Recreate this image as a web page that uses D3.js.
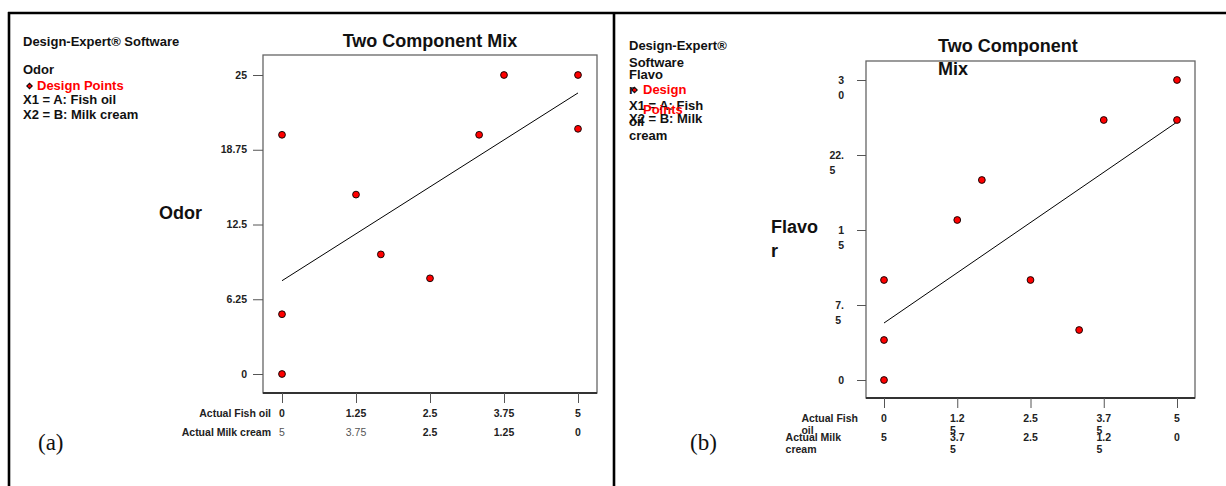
<!DOCTYPE html>
<html>
<head>
<meta charset="utf-8">
<script src="https://cdn.jsdelivr.net/npm/d3@7"></script>
<style>
body { margin: 0; background: #fff; }
svg { font-family: "Liberation Sans", Arial, sans-serif; }
.tick line { stroke: #555; }
.lbl { font-size: 10.5px; font-weight: bold; fill: #222; }
.hdr { font-size: 13px; font-weight: bold; fill: #111; }
.ttl { font-size: 18px; font-weight: bold; fill: #111; }
.cap { font-family: "Liberation Serif", "Times New Roman", serif; font-size: 23px; fill: #111; }
</style>
</head>
<body>
<svg id="fig" width="1226" height="486"></svg>
<script>
// design points (same blends, two responses)
const fishOilA = [0, 1.25, 3.33, 3.75, 5, 5, 1.67, 2.5, 0, 0];
const odor     = [20, 15, 20, 25, 25, 20.5, 10, 8, 5, 0];
const fishOilB = [5, 3.75, 5, 1.67, 1.25, 0, 2.5, 3.33, 0, 0];
const flavor   = [30, 26, 26, 20, 16, 10, 10, 5, 4, 0];

// fitted line, value at fish oil = 0 and 5
const fitEnds  = [0, 5];
const odorFit  = [7.8, 23.5];
const flavorFit = [5.7, 25.8];

const fishTicks   = [0, 1.25, 2.5, 3.75, 5];
const fishLabelsA = ["0", "1.25", "2.5", "3.75", "5"];
const milkLabelsA = ["5", "3.75", "2.5", "1.25", "0"];
const odorTicks   = [0, 6.25, 12.5, 18.75, 25];
const odorLabels  = ["0", "6.25", "12.5", "18.75", "25"];

const fishLabelsB   = ["0", "1.2|5", "2.5", "3.7|5", "5"];
const milkLabelsB   = ["5", "3.7|5", "2.5", "1.2|5", "0"];
const flavorTicks   = [0, 7.5, 15, 22.5, 30];
const flavorLabels  = ["0", "7.|5", "1|5", "22.|5", "3|0"];

const svg = d3.select("#fig");
svg.append("rect").attr("width", 1226).attr("height", 486).attr("fill", "#fff");

// outer frame
const frame = svg.append("g").attr("stroke", "#000").attr("stroke-width", 2.6);
frame.append("line").attr("x1", 8).attr("x2", 1226).attr("y1", 13).attr("y2", 13);
frame.append("line").attr("x1", 9).attr("x2", 9).attr("y1", 12).attr("y2", 486);
frame.append("line").attr("x1", 614).attr("x2", 614).attr("y1", 12).attr("y2", 486);

// text block: lines split on "|", left aligned inside, block placed by mode
function block(g, str, x, y, mode, lineH, cls) {
    const t = g.append("text").attr("class", cls).attr("y", y);
    str.split("|").forEach(s => t.append("tspan").text(s));
    const widths = t.selectAll("tspan").nodes().map(n => n.getComputedTextLength());
    let x0 = x;
    if (mode === "end") x0 = x - d3.max(widths);
    if (mode === "middle") x0 = x - widths[0] / 2;
    t.selectAll("tspan").attr("x", x0).attr("dy", (d, k) => k ? lineH : 0);
    return t;
}

function diamond(g, x, y) {
    g.append("path").attr("d", `M${x},${y - 3.5}L${x + 3.5},${y}L${x},${y + 3.5}L${x - 3.5},${y}Z`)
        .attr("fill", "#111");
    g.append("circle").attr("cx", x).attr("cy", y).attr("r", 1.6).attr("fill", "#f00");
}

function panel(cfg) {
    const g = svg.append("g");
    const x = d3.scaleLinear().domain([0, 5]).range(cfg.xRange);
    const y = d3.scaleLinear().domain(cfg.yDomain).range(cfg.yRange);

    // plot box
    g.append("rect").attr("x", cfg.box[0]).attr("y", cfg.box[1])
        .attr("width", cfg.box[2] - cfg.box[0]).attr("height", cfg.box[3] - cfg.box[1])
        .attr("fill", "none").attr("stroke", "#666").attr("stroke-width", 1.3);
    g.append("line").attr("x1", cfg.box[0]).attr("x2", cfg.box[2])
        .attr("y1", cfg.box[3]).attr("y2", cfg.box[3]).attr("stroke", "#333").attr("stroke-width", 2);

    const yAxis = g.append("g").attr("transform", `translate(${cfg.box[0]},0)`)
        .call(d3.axisLeft(y).tickValues(cfg.yTicks).tickSize(cfg.yTickLen).tickFormat(""));
    yAxis.select(".domain").remove();
    cfg.yTicks.forEach((v, i) => {
        block(g, cfg.yLabels[i], cfg.yLabelX, y(v) + 3.7, "end", cfg.yLineH, "lbl");
    });

    const xAxis = g.append("g").attr("transform", `translate(0,${cfg.box[3]})`)
        .call(d3.axisBottom(x).tickValues(fishTicks).tickSize(10).tickFormat(""));
    xAxis.select(".domain").remove();
    fishTicks.forEach((v, i) => {
        block(g, cfg.fishLabels[i], x(v), cfg.rowY[0], "middle", cfg.xLineH, "lbl");
        const m = block(g, cfg.milkLabels[i], x(v), cfg.rowY[1], "middle", cfg.xLineH, "lbl");
        if (cfg.milkPlain && cfg.milkPlain[i]) m.style("font-weight", "normal").style("fill", "#555");
    });
    block(g, cfg.fishRow, cfg.rowX[0], cfg.rowY[0], "end", cfg.xLineH, "lbl");
    block(g, cfg.milkRow, cfg.rowX[1], cfg.rowY[1], "end", cfg.xLineH, "lbl");

    // fitted line
    g.append("path")
        .attr("d", d3.line().x(d => x(d[0])).y(d => y(d[1]))(fitEnds.map((f, i) => [f, cfg.fit[i]])))
        .attr("fill", "none").attr("stroke", "#000").attr("stroke-width", 1);

    // design points
    g.selectAll(".pt").data(cfg.xs).enter().append("circle")
        .attr("class", "pt")
        .attr("cx", d => x(d))
        .attr("cy", (d, i) => y(cfg.ys[i]))
        .attr("r", 3.4)
        .attr("fill", "#f00").attr("stroke", "#000").attr("stroke-width", 0.9);
    return g;
}

// (a) Odor
panel({
    xRange: [282, 578], yDomain: [0, 25], yRange: [374, 75],
    box: [263, 55, 597, 393],
    yTicks: odorTicks, yLabels: odorLabels, yTickLen: 10, yLabelX: 247, yLineH: 15,
    fishLabels: fishLabelsA, milkLabels: milkLabelsA, milkPlain: [true, true, false, false, false],
    fishRow: "Actual Fish oil", milkRow: "Actual Milk cream",
    rowX: [271, 271], rowY: [417, 436], xLineH: 12,
    fit: odorFit, xs: fishOilA, ys: odor
});

// (b) Flavor
panel({
    xRange: [884, 1177], yDomain: [0, 30], yRange: [380, 80],
    box: [866, 61, 1195, 398],
    yTicks: flavorTicks, yLabels: flavorLabels, yTickLen: 9, yLabelX: 844, yLineH: 15,
    fishLabels: fishLabelsB, milkLabels: milkLabelsB,
    fishRow: "Actual Fish|oil", milkRow: "Actual Milk|cream",
    rowX: [858, 841], rowY: [422, 441], xLineH: 12,
    fit: flavorFit, xs: fishOilB, ys: flavor
});

// headers, left
const h = svg.append("g");
h.append("text").attr("class", "hdr").attr("x", 23).attr("y", 46).text("Design-Expert® Software");
h.append("text").attr("class", "hdr").attr("x", 23).attr("y", 74).text("Odor");
diamond(h, 29.5, 86);
h.append("text").attr("class", "hdr").attr("x", 37).attr("y", 90).style("fill", "#f00").text("Design Points");
h.append("text").attr("class", "hdr").attr("x", 23).attr("y", 104).text("X1 = A: Fish oil");
h.append("text").attr("class", "hdr").attr("x", 23).attr("y", 119).text("X2 = B: Milk cream");
h.append("text").attr("class", "ttl").attr("x", 430).attr("y", 47).attr("text-anchor", "middle").text("Two Component Mix");
h.append("text").attr("class", "ttl").attr("x", 159).attr("y", 219).text("Odor");
h.append("text").attr("class", "cap").attr("x", 38).attr("y", 450).text("(a)");

// headers, right (wrapped and overlapping as in the source)
const rx = 629;
h.append("text").attr("class", "hdr").attr("x", rx).attr("y", 50).text("Design-Expert®");
h.append("text").attr("class", "hdr").attr("x", rx).attr("y", 67).text("Software");
h.append("text").attr("class", "hdr").attr("x", rx).attr("y", 79).text("Flavo");
h.append("text").attr("class", "hdr").attr("x", rx).attr("y", 94).text("r");
diamond(h, 634.5, 90);
h.append("text").attr("class", "hdr").attr("x", 643).attr("y", 94).style("fill", "#f00").text("Design");
h.append("text").attr("class", "hdr").attr("x", rx).attr("y", 110).text("X1 = A: Fish");
h.append("text").attr("class", "hdr").attr("x", 643).attr("y", 114).style("fill", "#f00").text("Points");
h.append("text").attr("class", "hdr").attr("x", rx).attr("y", 123).text("X2 = B: Milk");
h.append("text").attr("class", "hdr").attr("x", rx).attr("y", 126).text("oil");
h.append("text").attr("class", "hdr").attr("x", rx).attr("y", 140).text("cream");
block(h, "Two Component|Mix", 938, 52, "start", 23, "ttl");
block(h, "Flavo|r", 771, 233, "start", 24, "ttl");
h.append("text").attr("class", "cap").attr("x", 690).attr("y", 450).text("(b)");
</script>
</body>
</html>
